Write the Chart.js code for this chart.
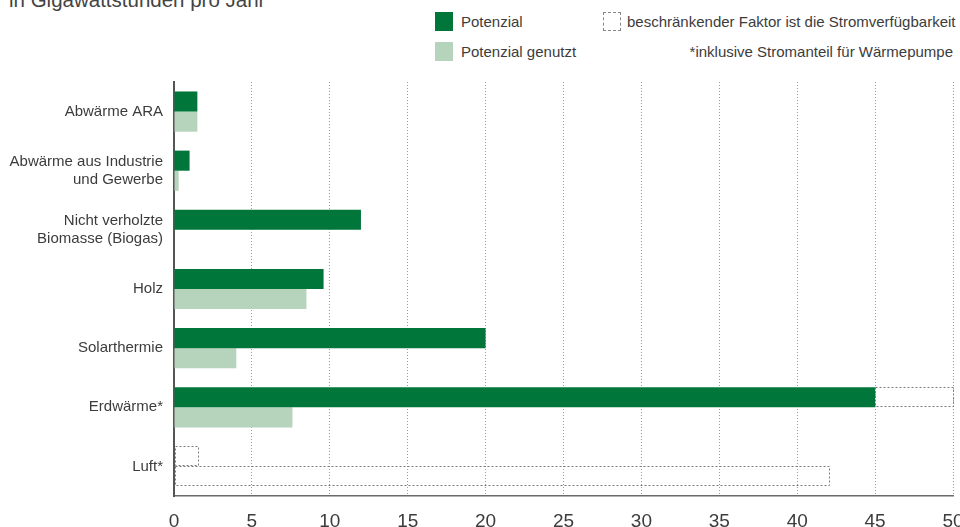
<!DOCTYPE html>
<html lang="de">
  <head>
    <meta charset="UTF-8" />
    <script src="https://cdn.jsdelivr.net/npm/chart.js"></script>
    <style>
      body {
        margin: 0;
        width: 960px;
        height: 527px;
        overflow: hidden;
        position: relative;
        font-family: "Liberation Sans", Arial, sans-serif;
        color: #3c3c3c;
        background: #fff;
      }
      #title {
        position: absolute;
        left: 9px;
        top: -10px;
        font-size: 20.5px;
        line-height: 20px;
        color: #444;
      }
      .lg {
        position: absolute;
        font-size: 15px;
        line-height: 19px;
        color: #3c3c3c;
        white-space: nowrap;
      }
      .sw {
        position: absolute;
        width: 18px;
        height: 19px;
      }
      #chartBox {
        position: absolute;
        left: 0;
        top: 0;
        width: 960px;
        height: 527px;
      }
    </style>
  </head>
  <body>
    <div id="title">in Gigawattstunden pro Jahr</div>

    <div class="sw" style="left:435px; top:12px; background:#00763a"></div>
    <div class="lg" style="left:461px; top:12px">Potenzial</div>
    <div class="sw" style="left:435px; top:42px; background:#b6d3bc"></div>
    <div class="lg" style="left:461px; top:42px">Potenzial genutzt</div>
    <div class="sw" style="left:603px; top:12px; width:16px; height:17px; border:1px dashed #888"></div>
    <div class="lg" style="left:627px; top:12px">beschränkender Faktor ist die Stromverfügbarkeit</div>
    <div class="lg" style="right:7px; top:42px">*inklusive Stromanteil für Wärmepumpe</div>

    <div id="chartBox"><canvas id="chart"></canvas></div>

    <script>
      const categories = [
        "Abwärme ARA",
        ["Abwärme aus Industrie", "und Gewerbe"],
        ["Nicht verholzte", "Biomasse (Biogas)"],
        "Holz",
        "Solarthermie",
        "Erdwärme*",
        "Luft*",
      ];
      const potenzial = [1.5, 1.0, 12, 9.6, 20, 45, 0];
      const potenzialGenutzt = [1.5, 0.3, 0, 8.5, 4, 7.6, 0];
      // dotted boxes: limited by electricity availability
      const limitTop = [0, 0, 0, 0, 0, 5, 1.5];
      const limitBottom = [0, 0, 0, 0, 0, 0, 42];
      const xTicks = [0, 5, 10, 15, 20, 25, 30, 35, 40, 45, 50];

      const dashedBoxes = {
        id: "dashedBoxes",
        afterDatasetsDraw(chart) {
          const ctx = chart.ctx;
          ctx.save();
          ctx.strokeStyle = "#7a7a7a";
          ctx.lineWidth = 1;
          ctx.setLineDash([2, 2]);
          chart.data.datasets.forEach((ds, i) => {
            if (!ds.dashed) return;
            const meta = chart.getDatasetMeta(i);
            meta.data.forEach((bar, j) => {
              if (!ds.data[j]) return;
              const p = bar.getProps(["x", "y", "base", "height"], true);
              const x0 = Math.min(p.x, p.base);
              const x1 = Math.max(p.x, p.base);
              ctx.strokeRect(
                Math.round(x0) + 0.5,
                Math.round(p.y - p.height / 2) + 0.5,
                Math.round(x1 - x0),
                Math.round(p.height) - 1
              );
            });
          });
          ctx.restore();
        },
      };

      const ctx = document.getElementById("chart").getContext("2d");
      new Chart(ctx, {
        type: "bar",
        data: {
          labels: categories,
          datasets: [
            {
              label: "Potenzial",
              data: potenzial,
              backgroundColor: "#00763a",
              stack: "top",
            },
            {
              label: "beschränkender Faktor",
              data: limitTop,
              backgroundColor: "rgba(0,0,0,0)",
              stack: "top",
              dashed: true,
            },
            {
              label: "Potenzial genutzt",
              data: potenzialGenutzt,
              backgroundColor: "#b6d3bc",
              stack: "bottom",
            },
            {
              label: "beschränkender Faktor ",
              data: limitBottom,
              backgroundColor: "rgba(0,0,0,0)",
              stack: "bottom",
              dashed: true,
            },
          ],
        },
        options: {
          indexAxis: "y",
          responsive: true,
          maintainAspectRatio: false,
          animation: false,
          barPercentage: 1,
          categoryPercentage: 0.68,
          layout: { padding: { top: 82, right: 7, left: 0, bottom: 0 } },
          plugins: {
            legend: { display: false },
            tooltip: { enabled: false },
          },
          scales: {
            x: {
              stacked: true,
              min: 0,
              max: 50,
              afterBuildTicks: (scale) => {
                scale.ticks = xTicks.map((v) => ({ value: v }));
              },
              afterFit: (scale) => {
                scale.height = 31;
                scale.paddingLeft = 0;
                scale.paddingRight = 0;
              },
              grid: {
                color: "#9a9a9a",
                lineWidth: 1,
                tickLength: 0,
                drawTicks: false,
              },
              border: { display: true, color: "#6a6a6a", width: 1.5, dash: [1, 2] },
              ticks: {
                color: "#3c3c3c",
                padding: 14,
                maxRotation: 0,
                autoSkip: false,
                font: { family: "Liberation Sans", size: 19 },
              },
            },
            y: {
              stacked: true,
              afterFit: (scale) => {
                scale.width = 174;
              },
              grid: { display: false, drawTicks: false },
              border: { display: true, color: "#555", width: 2 },
              ticks: {
                color: "#3c3c3c",
                padding: 11,
                font: { family: "Liberation Sans", size: 15 },
              },
            },
          },
        },
        plugins: [dashedBoxes],
      });
    </script>
  </body>
</html>
